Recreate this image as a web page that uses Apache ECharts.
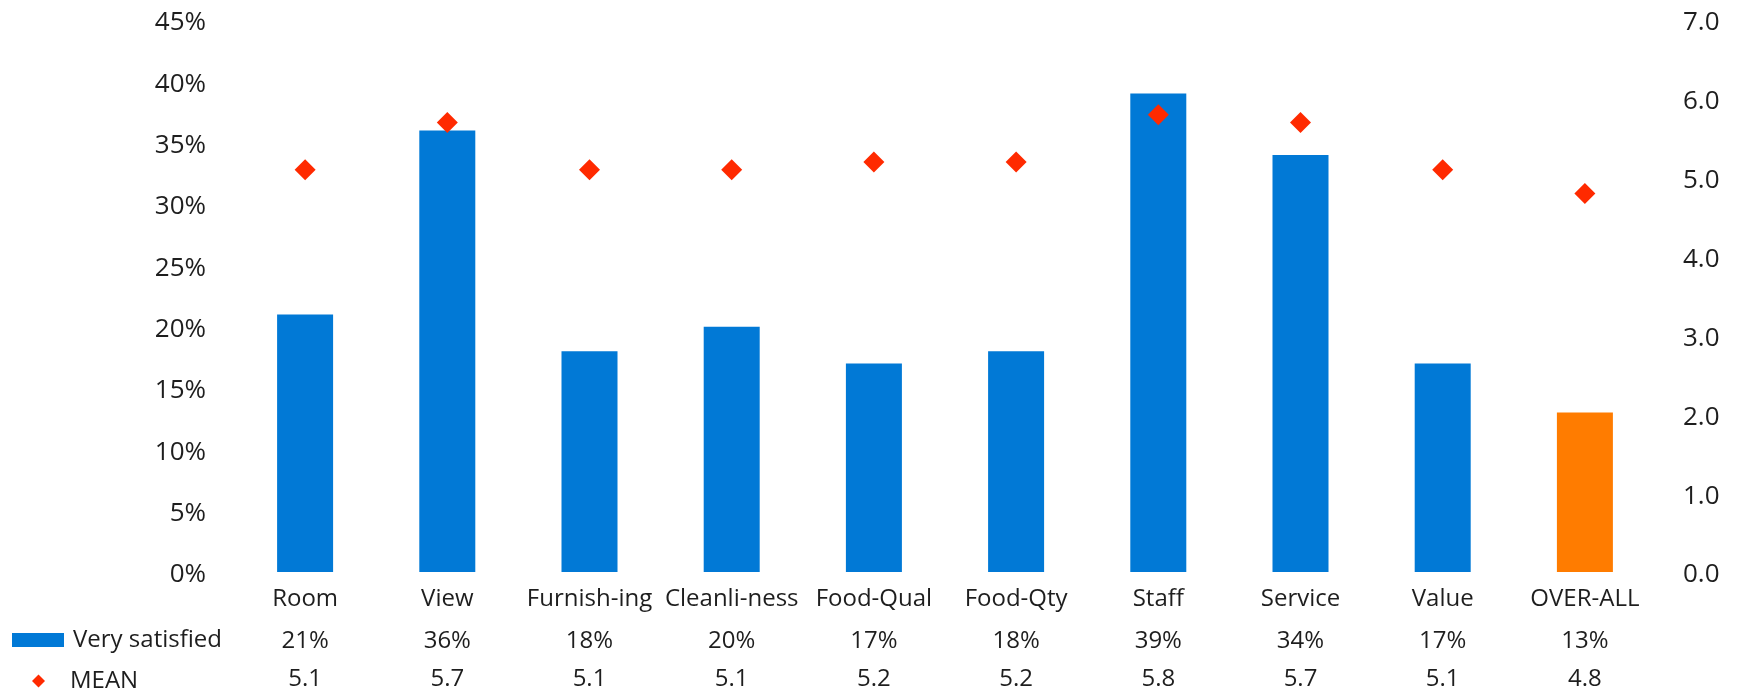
<!DOCTYPE html>
<html>
<head>
<meta charset="utf-8">
<script src="https://cdn.jsdelivr.net/npm/echarts@6/dist/echarts.min.js"></script>
<style>
  html, body { margin: 0; padding: 0; background: #fff; }
  #chart { width: 1737px; height: 691px; }
</style>
</head>
<body>
<div id="chart"></div>
<script>
// Satisfaction by aspect: share "very satisfied" (bars) and mean score (diamonds)
const categories = ['Room', 'View', 'Furnish-ing', 'Cleanli-ness', 'Food-Qual', 'Food-Qty', 'Staff', 'Service', 'Value', 'OVER-ALL'];
const verySatisfied = [21, 36, 18, 20, 17, 18, 39, 34, 17, 13];   // percent
const meanScore = [5.1, 5.7, 5.1, 5.1, 5.2, 5.2, 5.8, 5.7, 5.1, 4.8];
const pctTicks = { min: 0, max: 45, step: 5 };
const meanTicks = { min: 0, max: 7, step: 1 };

const BLUE = '#0179D6';
const ORANGE = '#FF7C00';
const RED = '#FF2A00';
const TEXT = '#1e1e1e';
const FONT = '"Open Sans", "Noto Sans", sans-serif';

const chart = echarts.init(document.getElementById('chart'));

const barData = verySatisfied.map((v, i) => ({
  value: v / 100,
  itemStyle: { color: categories[i] === 'OVER-ALL' ? ORANGE : BLUE }
}));

// Rows of the data table under the plot, each as its own category axis
const tableAxis = (labels, offset) => ({
  type: 'category',
  data: labels,
  position: 'bottom',
  offset: offset,
  axisLine: { show: false },
  axisTick: { show: false },
  axisLabel: { interval: 0, margin: 15, color: TEXT, fontSize: 24, fontFamily: FONT }
});

// Tick labels sit with their digits centred on the tick
const valueLabel = (margin, formatter) => ({
  margin: margin, color: TEXT, fontSize: 26, fontFamily: FONT,
  verticalAlign: 'top', lineHeight: 6,
  formatter: formatter
});

chart.setOption({
  animation: false,
  backgroundColor: '#ffffff',
  grid: { left: 234, right: 81, top: 20, bottom: 118, containLabel: false },
  legend: [
    {
      data: ['Very satisfied'],
      left: 12, top: 628, padding: 0,
      itemWidth: 52, itemHeight: 14,
      icon: 'rect',
      textStyle: { color: TEXT, fontSize: 24, fontFamily: FONT, padding: [0, 0, 0, 4] }
    },
    {
      data: ['MEAN'],
      left: 32, top: 669, padding: 0,
      itemWidth: 13, itemHeight: 13,
      icon: 'diamond',
      textStyle: { color: TEXT, fontSize: 24, fontFamily: FONT, padding: [0, 0, 0, 20] }
    }
  ],
  xAxis: [
    tableAxis(categories, 0),
    tableAxis(verySatisfied.map(v => v + '%'), 42),
    tableAxis(meanScore.map(v => v.toFixed(1)), 80)
  ],
  yAxis: [
    {
      type: 'value',
      min: pctTicks.min / 100, max: pctTicks.max / 100, interval: pctTicks.step / 100,
      axisLine: { show: false }, axisTick: { show: false }, splitLine: { show: false },
      axisLabel: valueLabel(28, v => Math.round(v * 100) + '%')
    },
    {
      type: 'value',
      min: meanTicks.min, max: meanTicks.max, interval: meanTicks.step,
      position: 'right',
      axisLine: { show: false }, axisTick: { show: false }, splitLine: { show: false },
      axisLabel: valueLabel(27, v => v.toFixed(1))
    }
  ],
  series: [
    {
      name: 'Very satisfied',
      type: 'bar',
      xAxisIndex: 0, yAxisIndex: 0,
      barWidth: 56,
      itemStyle: { color: BLUE },
      data: barData
    },
    {
      name: 'MEAN',
      type: 'scatter',
      xAxisIndex: 0, yAxisIndex: 1,
      symbol: 'diamond',
      symbolSize: 21,
      itemStyle: { color: RED, opacity: 1 },
      z: 5,
      data: meanScore
    }
  ]
});
</script>
</body>
</html>
